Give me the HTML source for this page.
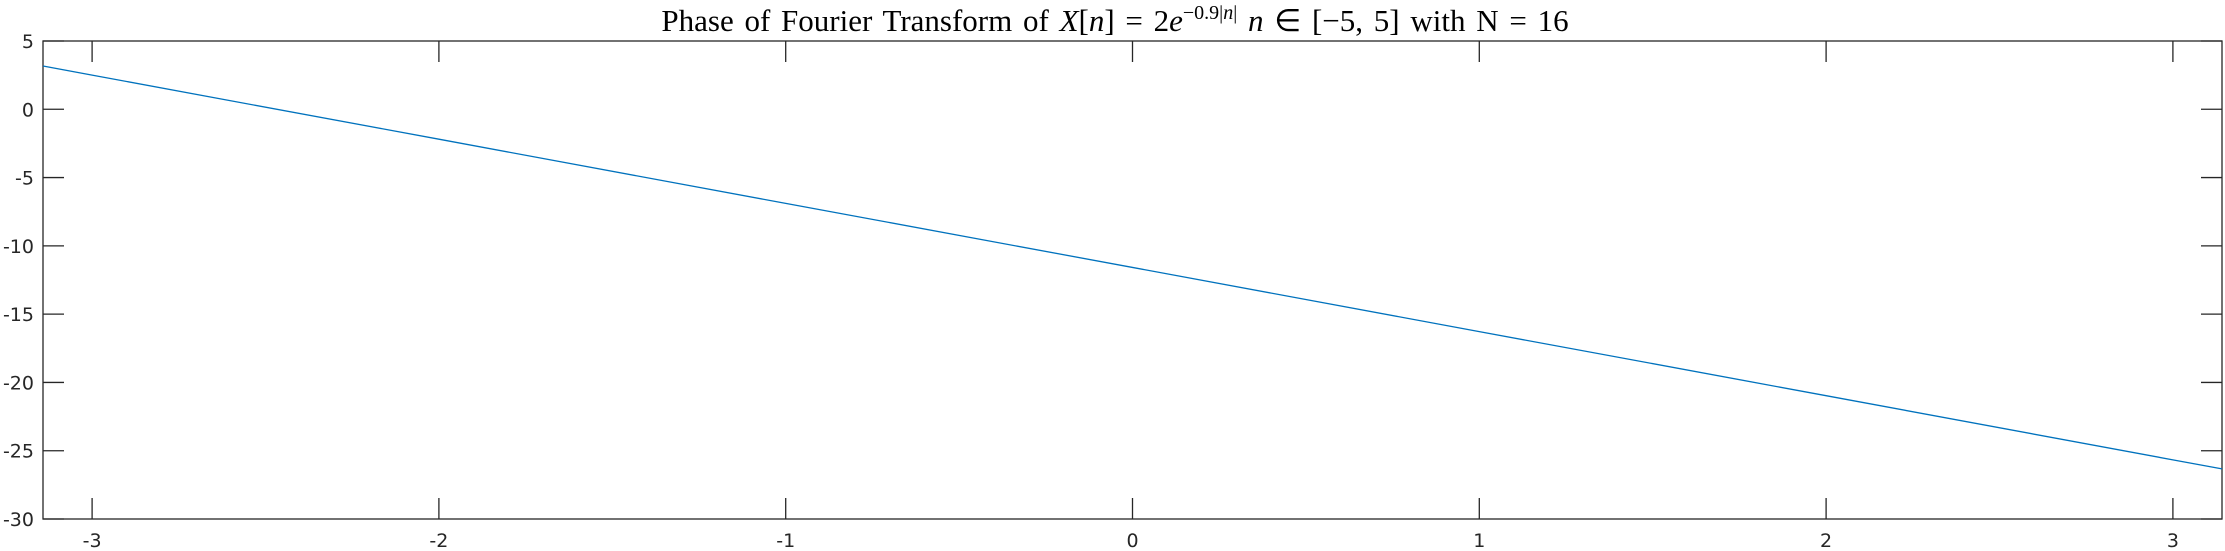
<!DOCTYPE html>
<html><head><meta charset="utf-8"><style>
html,body{margin:0;padding:0;background:#fff;}
svg{display:block;}
text{font-family:"DejaVu Sans","Liberation Sans",sans-serif;fill:#262626;}
.title{font-family:"Liberation Serif",serif;font-size:31px;fill:#000;word-spacing:3px;}
</style></head><body>
<svg id="chart" width="2225" height="551" viewBox="0 0 2225 551" xmlns="http://www.w3.org/2000/svg">
<text class="title" x="1115" y="31" text-anchor="middle">Phase of Fourier Transform of <tspan font-style="italic">X</tspan>[<tspan font-style="italic">n</tspan>]  =  2<tspan font-style="italic">e</tspan><tspan dy="-12" font-size="20">−0.9|<tspan font-style="italic">n</tspan>|</tspan><tspan dy="12">   </tspan><tspan font-style="italic">n</tspan> ∈ [−5, 5] with N  =   16</text>
<g id="axes"></g>
<g id="series"></g>
</svg>
<script>
const xValues = [-3.14159, -3, -2, -1, 0, 1, 2, 3, 3.14159];
const phaseValues = [3.17, 2.50, -2.19, -6.89, -11.58, -16.28, -20.97, -25.67, -26.33];
const xTicks = [-3, -2, -1, 0, 1, 2, 3];
const xTickLabels = ['-3', '-2', '-1', '0', '1', '2', '3'];
const yTicks = [-30, -25, -20, -15, -10, -5, 0, 5];
const yTickLabels = ['-30', '-25', '-20', '-15', '-10', '-5', '0', '5'];

const L = 43, R = 2222, T = 41, B = 519;
const xMin = -Math.PI, xMax = Math.PI, yMin = -30, yMax = 5;
const sx = v => L + (v - xMin) / (xMax - xMin) * (R - L);
const sy = v => B - (v - yMin) / (yMax - yMin) * (B - T);
const NS = 'http://www.w3.org/2000/svg';
const axes = document.getElementById('axes');
const series = document.getElementById('series');
function mk(tag, attrs, parent) {
  const e = document.createElementNS(NS, tag);
  for (const k in attrs) e.setAttribute(k, attrs[k]);
  parent.appendChild(e);
  return e;
}
const box = mk('rect', {x: L, y: T, width: R - L, height: B - T, fill: 'none', stroke: '#262626', 'stroke-width': 1.3}, axes);


const tl = 21;
xTicks.forEach((v, i) => {
  const x = sx(v);
  const t1 = mk('line', {x1: x, y1: B, x2: x, y2: B - tl, stroke: '#262626', 'stroke-width': 1.3}, axes);
  
  
  const t2 = mk('line', {x1: x, y1: T, x2: x, y2: T + tl, stroke: '#262626', 'stroke-width': 1.3}, axes);
  
  
  const lb = mk('text', {x: x, y: 547, 'text-anchor': 'middle', 'font-size': 19}, axes);
  lb.textContent = xTickLabels[i];
  
  
});
yTicks.forEach((v, i) => {
  const y = sy(v);
  const t1 = mk('line', {x1: L, y1: y, x2: L + tl, y2: y, stroke: '#262626', 'stroke-width': 1.3}, axes);
  
  
  const t2 = mk('line', {x1: R, y1: y, x2: R - tl, y2: y, stroke: '#262626', 'stroke-width': 1.3}, axes);
  
  
  const lb = mk('text', {x: 34, y: y + 7, 'text-anchor': 'end', 'font-size': 19}, axes);
  lb.textContent = yTickLabels[i];
  
  
});
const pts = xValues.map((v, i) => sx(v).toFixed(2) + ',' + sy(phaseValues[i]).toFixed(2)).join(' ');
const pl = mk('polyline', {points: pts, fill: 'none', stroke: '#0072BD', 'stroke-width': 1.3}, series);


</script>
</body></html>
